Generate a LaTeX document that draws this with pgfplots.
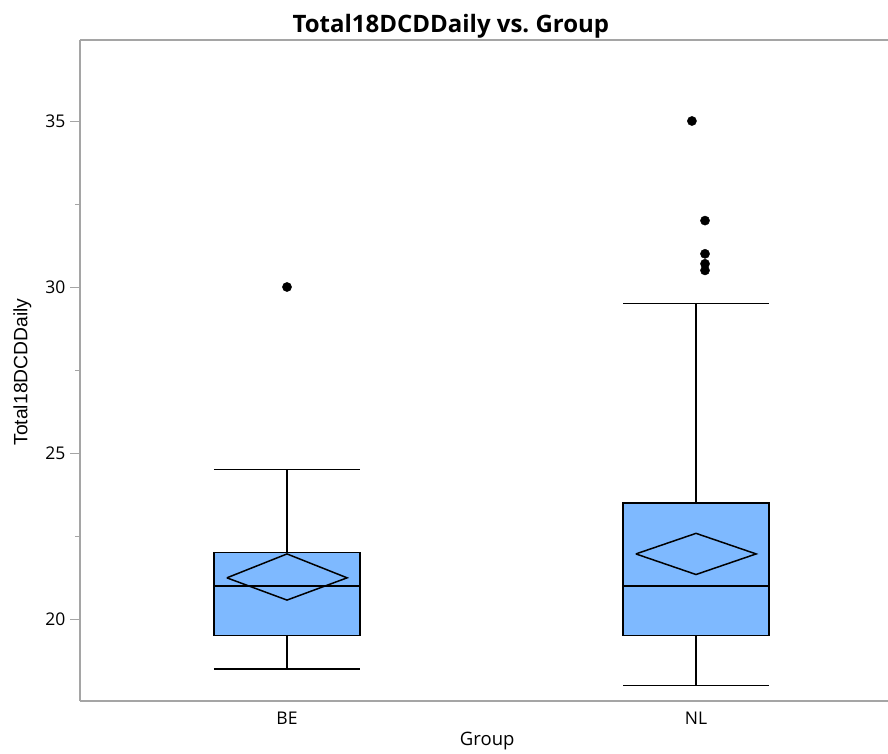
\documentclass[border=0pt]{standalone}
\usepackage{fontspec}
\setmainfont{Open Sans}
\newfontfamily\arialfont{Liberation Sans}
\usepackage{pgfplots}
\pgfplotsset{compat=1.18}
\usetikzlibrary{calc}
\definecolor{boxblue}{RGB}{126,185,255}
\definecolor{axgray}{RGB}{165,165,165}
\begin{document}
\begin{tikzpicture}[x=1pt,y=1pt]
\begin{axis}[
  scale only axis, width=808pt, height=661pt,
  xmin=-0.5061, xmax=1.4694,
  ymin=17.53, ymax=37.44,
  axis x line*=bottom, axis y line*=left,
  axis line style={axgray, line width=1.3pt, -},
  xtick={0,1}, xticklabels={BE,NL},
  ytick={20,25,30,35}, minor ytick={22.5,27.5,32.5},
  tick align=outside, major tick length=10pt, minor tick length=5pt,
  every tick/.style={axgray, line width=1pt},
  xtick style={draw=none},
  /pgf/number format/assume math mode=true,
  ticklabel style={font=\fontsize{17.5}{20}\selectfont},
  x tick label style={anchor=base, yshift=-13pt},
  y tick label style={anchor=east, xshift=-1pt},
  xlabel={Group},
  xlabel style={font=\fontsize{18.5}{21}\selectfont, at={(rel axis cs:0.504,0)}, anchor=base, yshift=-44pt},
  ylabel={Total18DCDDaily},
  ylabel style={font=\arialfont\fontsize{19.3}{22}\selectfont, at={(rel axis cs:-0.0712,0.4977)}, anchor=center},
  title={Total18DCDDaily vs.\ Group},
  title style={font=\bfseries\fontsize{24}{27}\selectfont, at={(rel axis cs:0.459,1)}, anchor=base, yshift=1pt},
  clip=false,
]
\draw[axgray, line width=1.3pt] (rel axis cs:0,1) -- (rel axis cs:1,1);
% BE box
\addplot[draw=black, fill=boxblue, line width=1.7pt] coordinates {(-0.1785,19.5) (0.1785,19.5) (0.1785,22) (-0.1785,22) (-0.1785,19.5)} -- cycle;
\addplot[black, line width=1.7pt] coordinates {(-0.1785,21) (0.1785,21)};
\addplot[black, line width=1.7pt] coordinates {(0,22) (0,24.5)};
\addplot[black, line width=1.7pt] coordinates {(-0.1785,24.5) (0.1785,24.5)};
\addplot[black, line width=1.7pt] coordinates {(0,19.5) (0,18.5)};
\addplot[black, line width=1.7pt] coordinates {(-0.1785,18.5) (0.1785,18.5)};
% NL box
\addplot[draw=black, fill=boxblue, line width=1.7pt] coordinates {(0.8215,19.5) (1.1785,19.5) (1.1785,23.5) (0.8215,23.5) (0.8215,19.5)} -- cycle;
\addplot[black, line width=1.7pt] coordinates {(0.8215,21) (1.1785,21)};
\addplot[black, line width=1.7pt] coordinates {(1,23.5) (1,29.5)};
\addplot[black, line width=1.7pt] coordinates {(0.8215,29.5) (1.1785,29.5)};
\addplot[black, line width=1.7pt] coordinates {(1,19.5) (1,18.0)};
\addplot[black, line width=1.7pt] coordinates {(0.8215,18.0) (1.1785,18.0)};
% mean diamonds
\addplot[black, line width=1.5pt] coordinates {(-0.147,21.24) (0,21.96) (0.147,21.24) (0,20.57) (-0.147,21.24)};
\addplot[black, line width=1.5pt] coordinates {(0.853,21.96) (1,22.58) (1.147,21.96) (1,21.34) (0.853,21.96)};
% outliers
\addplot[only marks, mark=*, mark size=4.6pt, black] coordinates {(0,30) (0.990,35) (1.022,32) (1.022,31) (1.022,30.7) (1.022,30.5)};
\end{axis}
\pgfresetboundingbox
\path (current axis.south west) ++(-80pt,-52pt) rectangle ($(current axis.north east)+(0pt,40pt)$);
\end{tikzpicture}
\end{document}
